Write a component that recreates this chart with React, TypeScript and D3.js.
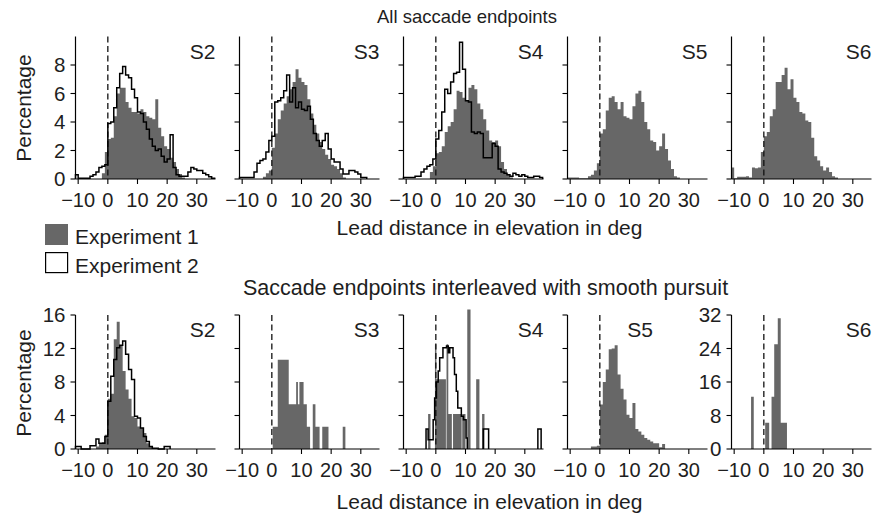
import React from 'react';
import * as d3 from 'd3';

// panels
const subjects = ['S2', 'S3', 'S4', 'S5', 'S6'];
const xTicks = [-10, 0, 10, 20, 30];
const topYTicks = [0, 2, 4, 6, 8];
const bottomYTicks = [0, 4, 8, 12, 16];
const bottomS6YTicks = [0, 8, 16, 24, 32];

// All saccade endpoints, 1 deg bins (first bin start in deg)
const topS2Exp1Start = -2;
const topS2Exp1 = [0.4, 1.9, 2.8, 2.9, 4.4, 6.0, 6.4, 6.4, 5.4, 5.0, 4.7, 4.7, 4.6, 4.9, 4.7, 4.4, 4.3, 4.2, 5.6, 3.6, 3.0, 2.3, 2.1, 1.5, 1.2, 0.7, 0.35, 0.1];
const topS2Exp2Start = -11;
const topS2Exp2 = [0.3, 0.05, 0.05, 0.05, 0.05, 0.2, 0.3, 0.5, 0.8, 0.9, 1.0, 3.9, 4.0, 5.0, 6.4, 7.4, 7.9, 7.3, 7.1, 6.3, 5.7, 4.7, 4.6, 4.0, 3.5, 2.8, 2.3, 2.0, 2.1, 1.6, 1.2, 1.4, 3.1, 0.8, 0.3, 0.2, 0.2, 0.2, 0.5, 0.8, 0.7, 0.6, 0.6, 0.4, 0.3, 0.15, 0.05];

const topS3Exp1Start = -3;
const topS3Exp1 = [0.15, 0.4, 0.6, 2.2, 3.2, 4.2, 4.8, 5.3, 5.8, 6.3, 6.8, 7.7, 7.1, 6.8, 6.6, 5.6, 4.6, 3.8, 3.2, 2.6, 2.1, 1.7, 1.4, 1.0, 0.9, 0.7, 0.4, 0.1];
const topS3Exp2Start = -11;
const topS3Exp2 = [0.1, 0.1, 0.1, 0.1, 0.1, 0.5, 1.1, 1.3, 1.4, 1.9, 2.7, 3.0, 5.4, 5.5, 5.7, 6.2, 7.3, 5.4, 6.4, 5.0, 5.4, 4.9, 4.8, 5.1, 4.2, 3.2, 2.7, 2.3, 2.7, 3.2, 2.1, 1.4, 1.2, 1.2, 0.7, 0.35, 0.35, 0.6, 0.6, 0.5, 0.35, 0.1, 0.1];

const topS4Exp1Start = -2;
const topS4Exp1 = [0.5, 0.9, 1.8, 1.9, 2.3, 3.3, 3.7, 4.0, 4.9, 6.2, 6.1, 5.7, 5.5, 6.4, 6.6, 6.3, 5.3, 4.9, 4.2, 3.4, 2.7, 2.6, 2.7, 2.3, 1.2, 0.7, 0.35, 0.1];
const topS4Exp2Start = -11;
const topS4Exp2 = [0.1, 0.1, 0.1, 0.1, 0.2, 0.2, 0.5, 0.7, 0.9, 1.0, 1.4, 2.8, 3.4, 4.7, 6.3, 6.0, 6.8, 7.4, 7.5, 9.6, 7.7, 5.5, 5.4, 3.3, 3.2, 3.3, 3.2, 1.5, 1.5, 1.5, 2.5, 2.3, 0.7, 0.5, 0.4, 0.3, 0.2, 0.4, 0.3, 0.2, 0.3, 0.2, 0.1, 0.1, 0.2, 0.2, 0.1];

const topS5Exp1Start = -11;
const topS5Exp1 = [0.1, 0.1, 0.1, 0.1, 0.05, 0.05, 0.05, 0.2, 0.3, 0.6, 1.1, 3.2, 3.5, 4.8, 5.7, 5.8, 5.4, 4.9, 5.4, 4.4, 4.3, 4.2, 5.1, 6.0, 6.2, 5.4, 4.0, 3.5, 2.7, 2.6, 2.0, 2.3, 3.2, 2.1, 1.3, 0.7, 0.2, 0.1];

const topS6Exp1Start = -11;
const topS6Exp1 = [0.8, 0.05, 0.15, 0.15, 0.15, 0.2, 0.1, 0.8, 0.75, 0.8, 1.9, 3.0, 3.3, 4.4, 4.9, 6.8, 6.8, 7.3, 7.8, 6.3, 7.0, 5.7, 5.4, 4.7, 4.6, 4.1, 4.0, 2.9, 1.6, 1.3, 0.9, 0.6, 0.8, 0.5, 0.2, 0.1];

// Saccade endpoints interleaved with smooth pursuit
const botS2Exp1Start = -4;
const botS2Exp1 = [0.3, 0.6, 0.8, 1.7, 6.0, 6.6, 13.1, 15.2, 12.3, 9.3, 7.1, 6.0, 3.9, 3.7, 2.7, 2.5, 1.9, 0.7, 0.3];
const botS2Exp2Start = -11;
const botS2Exp2 = [0.3, 0.3, 0, 0, 0, 0.4, 0.4, 1.2, 0.7, 0.7, 1.5, 5.7, 8.7, 10.7, 12.1, 12.4, 12.9, 11.3, 9.5, 8.3, 3.9, 3.7, 2.5, 1.5, 0.9, 0.3, 0.1, 0.1, 0, 0, 0.3, 0.3];

// sparse: [from deg, to deg, percent]
const botS3Exp1 = [[0.3, 2.0, 2.67], [2.0, 5.7, 10.67], [5.7, 8.2, 5.33], [8.2, 8.8, 8.0], [8.8, 9.3, 5.33], [9.3, 10.7, 8.0], [10.7, 11.8, 5.33], [11.8, 12.9, 2.67], [13.8, 14.7, 5.33], [14.7, 16.1, 2.67], [17.0, 19.1, 2.67], [23.9, 24.8, 2.67]];

const botS4Exp1 = [[-2.6, -1.8, 4.17], [-0.3, 0.2, 12.5], [0.2, 3.4, 8.33], [3.6, 4.2, 12.5], [4.2, 5.4, 4.17], [5.8, 8.7, 4.17], [8.9, 10.0, 4.17], [10.6, 11.7, 16.67], [13.6, 14.7, 8.33], [15.6, 16.4, 4.17]];
const botS4Exp2 = [[-3.3, -2.6, 2.4], [-2.6, -0.9, 1.1], [-0.9, -0.4, 3.5], [-0.4, 0.2, 6.1], [0.2, 0.8, 8.0], [0.8, 1.3, 9.3], [1.3, 2.4, 10.9], [2.4, 3.6, 12.1], [3.6, 4.2, 12.3], [4.2, 4.7, 11.5], [4.7, 5.8, 12.1], [5.8, 6.3, 10.9], [6.3, 6.9, 8.9], [6.9, 7.4, 6.9], [7.4, 8.6, 4.9], [8.6, 9.3, 3.9], [9.3, 10.2, 3.5], [10.2, 10.6, 1.3], [16.0, 17.8, 2.4], [34.4, 35.5, 2.4]];

const botS5Exp1Start = -3;
const botS5Exp1 = [0.3, 0.3, 0.4, 5.3, 8.0, 9.5, 11.9, 12.0, 12.4, 8.9, 7.2, 5.9, 4.1, 3.7, 5.5, 2.4, 2.1, 1.7, 1.3, 1.1, 0.9, 0.7, 0.7, 0.2, 0.6];

const botS6Exp1 = [[-4.3, -3.4, 12.5], [0.45, 1.8, 6.25], [2.6, 3.5, 12.5], [3.5, 4.7, 25], [4.7, 5.7, 31.25], [5.7, 7.8, 6.25]];

const dense = (start, values) => values.map((v, i) => [start + i, start + i + 1, v]);

const xDomain = [-10.9, 36.3];
const panelWidth = 140;
const panelStep = 164;
const firstLeft = 75.5;
const font = '"Liberation Sans", Arial, Helvetica, sans-serif';
const grayFill = '#676767';
const textFill = '#1e1e1e';

function Panel({ left, base, top, yMax, yTicks, showYLabels, gray, line, label, labelX }) {
  const x = d3.scaleLinear().domain(xDomain).range([left, left + panelWidth]);
  const y = d3.scaleLinear().domain([0, yMax]).range([base, top]);
  const clip = (v) => Math.max(xDomain[0], Math.min(xDomain[1], v));

  const g = d3.path();
  (gray || []).forEach(([a, b, v]) => {
    if (v <= 0) return;
    const x0 = x(clip(a));
    const x1 = x(clip(b));
    g.rect(x0, y(v), x1 - x0, base - y(v));
  });

  let lineD = null;
  if (line) {
    const p = d3.path();
    let prev = null;
    line.forEach(([a, b, v]) => {
      const x0 = x(clip(a));
      const x1 = x(clip(b));
      if (prev === null || Math.abs(prev - x0) > 0.01) {
        if (prev !== null) p.lineTo(prev, base);
        p.moveTo(x0, base);
      }
      p.lineTo(x0, y(v));
      p.lineTo(x1, y(v));
      prev = x1;
    });
    if (prev !== null) p.lineTo(prev, base);
    lineD = p.toString();
  }

  return (
    <g>
      <path d={g.toString()} fill={grayFill} />
      <line x1={x(0)} x2={x(0)} y1={top} y2={base} stroke="#111" strokeWidth={1.3} strokeDasharray="6,3.5" />
      {lineD && <path d={lineD} fill="none" stroke="#000" strokeWidth={1.5} strokeLinejoin="miter" />}
      {/* y axis */}
      <line x1={left} x2={left} y1={top} y2={base} stroke="#000" strokeWidth={1.2} />
      {yTicks.map((t) => (
        <g key={'y' + t}>
          <line x1={left - 5} x2={left} y1={y(t)} y2={y(t)} stroke="#000" strokeWidth={1.1} />
          {showYLabels && (
            <text x={left - 10} y={y(t)} dy="0.36em" textAnchor="end" fontSize={20.5} fill={textFill}>{t}</text>
          )}
        </g>
      ))}
      {/* x axis */}
      <line x1={left} x2={left + panelWidth} y1={base} y2={base} stroke="#000" strokeWidth={1.2} />
      {xTicks.map((t) => (
        <g key={'x' + t}>
          <line x1={x(t)} x2={x(t)} y1={base} y2={base + 5} stroke="#000" strokeWidth={1.1} />
          <text x={x(t)} y={base + 27.5} textAnchor="middle" fontSize={20} fill={textFill}>
            {t < 0 ? '\u2212' + Math.abs(t) : t}
          </text>
        </g>
      ))}
      <text x={labelX ?? left + panelWidth} y={top + 22} textAnchor="end" fontSize={21} fill={textFill}>{label}</text>
    </g>
  );
}

export default function App() {
  const topGray = [
    dense(topS2Exp1Start, topS2Exp1),
    dense(topS3Exp1Start, topS3Exp1),
    dense(topS4Exp1Start, topS4Exp1),
    dense(topS5Exp1Start, topS5Exp1),
    dense(topS6Exp1Start, topS6Exp1),
  ];
  const topLine = [
    dense(topS2Exp2Start, topS2Exp2),
    dense(topS3Exp2Start, topS3Exp2),
    dense(topS4Exp2Start, topS4Exp2),
    null,
    null,
  ];
  const botGray = [dense(botS2Exp1Start, botS2Exp1), botS3Exp1, botS4Exp1, dense(botS5Exp1Start, botS5Exp1), botS6Exp1];
  const botLine = [dense(botS2Exp2Start, botS2Exp2), null, botS4Exp2, null, null];

  const topBase = 179;
  const topTop = 36.5;
  const botBase = 449;
  const botTop = 315;

  return (
    <svg width={875} height={516} style={{ position: 'absolute', left: 0, top: 0, fontFamily: font }}>
      <rect width={875} height={516} fill="#fff" />
      <text x={467} y={23} textAnchor="middle" fontSize={18.5} fill={textFill}>All saccade endpoints</text>
      {subjects.map((s, i) => (
        <Panel key={'t' + s} left={firstLeft + i * panelStep} base={topBase} top={topTop} yMax={10}
          yTicks={topYTicks} showYLabels={i === 0} gray={topGray[i]} line={topLine[i]} label={s} />
      ))}
      <text transform={`translate(30.5,108) rotate(-90)`} textAnchor="middle" fontSize={21} fill={textFill}>Percentage</text>
      <text x={489.5} y={235} textAnchor="middle" fontSize={21} fill={textFill}>Lead distance in elevation in deg</text>

      <rect x={45} y={224} width={23} height={21} fill={grayFill} />
      <text x={75} y={243.5} fontSize={21} fill={textFill}>Experiment 1</text>
      <rect x={45.6} y={252.6} width={22} height={20} fill="#fff" stroke="#000" strokeWidth={1.2} />
      <text x={75} y={272.5} fontSize={21} fill={textFill}>Experiment 2</text>

      <text x={485.5} y={295} textAnchor="middle" fontSize={21.5} fill={textFill}>Saccade endpoints interleaved with smooth pursuit</text>
      {subjects.map((s, i) => (
        <Panel key={'b' + s} left={firstLeft + i * panelStep} base={botBase} top={botTop}
          yMax={i === 4 ? 32 : 16} yTicks={i === 4 ? bottomS6YTicks : bottomYTicks}
          showYLabels={i === 0 || i === 4} gray={botGray[i]} line={botLine[i]} label={s}
          labelX={i === 3 ? 653 : undefined} />
      ))}
      <text transform={`translate(30.5,383) rotate(-90)`} textAnchor="middle" fontSize={21} fill={textFill}>Percentage</text>
      <text x={489.5} y={509} textAnchor="middle" fontSize={21} fill={textFill}>Lead distance in elevation in deg</text>
    </svg>
  );
}
